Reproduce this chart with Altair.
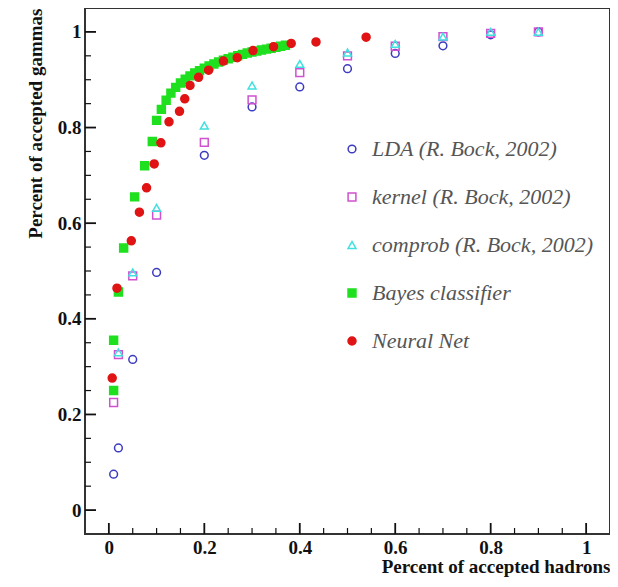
import altair as alt
import pandas as pd

series_names = [
    "LDA (R. Bock, 2002)",
    "kernel (R. Bock, 2002)",
    "comprob (R. Bock, 2002)",
    "Bayes classifier",
    "Neural Net",
]
stroke_colors = ["#3c3cc0", "#d050d0", "#40e0e0", "#1fe01f", "#e01414"]
fill_colors = ["transparent", "transparent", "transparent", "#1fe01f", "#e01414"]
shapes = ["circle", "square", "triangle-up", "square", "circle"]
sizes = [60, 64, 64, 95, 100]

lda_x = [0.01, 0.02, 0.05, 0.1, 0.2, 0.3, 0.4, 0.5, 0.6, 0.7, 0.8, 0.9]
lda_y = [0.075, 0.13, 0.315, 0.497, 0.742, 0.843, 0.885, 0.923, 0.955, 0.971, 0.994, 1.0]

kernel_x = [0.01, 0.02, 0.05, 0.1, 0.2, 0.3, 0.4, 0.5, 0.6, 0.7, 0.8, 0.9]
kernel_y = [0.225, 0.325, 0.49, 0.617, 0.769, 0.858, 0.915, 0.95, 0.97, 0.99, 0.997, 1.0]

comprob_x = [0.02, 0.05, 0.1, 0.2, 0.3, 0.4, 0.5, 0.6, 0.7, 0.8, 0.9]
comprob_y = [0.33, 0.497, 0.632, 0.804, 0.888, 0.933, 0.957, 0.975, 0.99, 1.0, 1.0]

bayes_x = [0.01, 0.01, 0.02, 0.031, 0.054, 0.075, 0.091,
           0.10, 0.11, 0.12, 0.13, 0.14, 0.15, 0.16, 0.17, 0.18, 0.19,
           0.20, 0.21, 0.22, 0.23, 0.24, 0.25, 0.26, 0.27, 0.28, 0.29,
           0.30, 0.31, 0.32, 0.33, 0.34, 0.35, 0.36, 0.37]
bayes_y = [0.25, 0.355, 0.456, 0.548, 0.655, 0.72, 0.771,
           0.815, 0.838, 0.857, 0.872, 0.884, 0.893, 0.901, 0.908, 0.914, 0.919,
           0.924, 0.929, 0.933, 0.937, 0.941, 0.944, 0.947, 0.950, 0.953, 0.956,
           0.958, 0.960, 0.962, 0.964, 0.966, 0.968, 0.970, 0.972]

nn_x = [0.007, 0.017, 0.047, 0.064, 0.079, 0.095, 0.109, 0.126, 0.148, 0.159,
        0.17, 0.188, 0.209, 0.24, 0.269, 0.302, 0.345, 0.382, 0.434, 0.539]
nn_y = [0.276, 0.464, 0.563, 0.623, 0.674, 0.724, 0.768, 0.812, 0.834, 0.86,
        0.888, 0.905, 0.92, 0.939, 0.946, 0.961, 0.969, 0.976, 0.979, 0.989]

x_major = [0, 0.2, 0.4, 0.6, 0.8, 1]
x_minor = [0.05, 0.1, 0.15, 0.25, 0.3, 0.35, 0.45, 0.5, 0.55,
           0.65, 0.7, 0.75, 0.85, 0.9, 0.95]
y_major = [0, 0.2, 0.4, 0.6, 0.8, 1]
y_minor = [0.05, 0.1, 0.15, 0.25, 0.3, 0.35, 0.45, 0.5, 0.55,
           0.65, 0.7, 0.75, 0.85, 0.9, 0.95]

rows = []
for name, xs, ys in zip(series_names,
                        [lda_x, kernel_x, comprob_x, bayes_x, nn_x],
                        [lda_y, kernel_y, comprob_y, bayes_y, nn_y]):
    for a, b in zip(xs, ys):
        rows.append({"series": name, "x": a, "y": b})
df = pd.DataFrame(rows)

W, H = 525, 526

xscale = alt.Scale(domain=[-0.05, 1.05], nice=False, zero=False)
yscale = alt.Scale(domain=[-0.05, 1.05], nice=False, zero=False)

x_axis = alt.Axis(
    values=x_major, ticks=False, domain=False, grid=False,
    labelPadding=4, format="~g", orient="bottom",
    title="Percent of accepted hadrons", titleAnchor="end", titlePadding=0)
y_axis = alt.Axis(
    values=y_major, ticks=False, domain=False, grid=False,
    labelPadding=4, format="~g", orient="left",
    title="Percent of accepted gammas", titleAnchor="end", titlePadding=12)

leg = alt.Legend(
    title=None, orient="none", legendX=256, legendY=130,
    labelFont="Liberation Serif", labelFontStyle="italic", labelFontSize=22,
    labelColor="#555", rowPadding=26, labelOffset=9, padding=0,
    symbolStrokeWidth=1.5, labelLimit=400,
)

points = alt.Chart(df).mark_point(filled=False, strokeWidth=1.5, opacity=1).encode(
    x=alt.X("x:Q", scale=xscale, axis=x_axis),
    y=alt.Y("y:Q", scale=yscale, axis=y_axis),
    color=alt.Color("series:N", scale=alt.Scale(domain=series_names, range=stroke_colors), legend=leg),
    fill=alt.Fill("series:N", scale=alt.Scale(domain=series_names, range=fill_colors), legend=leg),
    shape=alt.Shape("series:N", scale=alt.Scale(domain=series_names, range=shapes), legend=leg),
    size=alt.Size("series:N", scale=alt.Scale(domain=series_names, range=sizes), legend=leg),
)

tick_col = "#111"

y_major_ticks = alt.Chart(pd.DataFrame({"y": y_major})).mark_rule(
    color=tick_col, strokeWidth=1.8).encode(
    y=alt.Y("y:Q", scale=yscale, axis=y_axis),
    x=alt.value(0), x2=alt.value(11))
y_minor_ticks = alt.Chart(pd.DataFrame({"y": y_minor})).mark_rule(
    color=tick_col, strokeWidth=1.2).encode(
    y=alt.Y("y:Q", scale=yscale, axis=y_axis),
    x=alt.value(0), x2=alt.value(6))
x_major_ticks = alt.Chart(pd.DataFrame({"x": x_major})).mark_rule(
    color=tick_col, strokeWidth=1.8).encode(
    x=alt.X("x:Q", scale=xscale, axis=x_axis),
    y=alt.value(H - 11), y2=alt.value(H))
x_minor_ticks = alt.Chart(pd.DataFrame({"x": x_minor})).mark_rule(
    color=tick_col, strokeWidth=1.2).encode(
    x=alt.X("x:Q", scale=xscale, axis=x_axis),
    y=alt.value(H - 6), y2=alt.value(H))

chart = alt.layer(
    points, y_major_ticks, y_minor_ticks, x_major_ticks, x_minor_ticks
).properties(
    width=W, height=H,
    padding={"left": 77, "top": 0, "right": 0, "bottom": 45},
    autosize="none",
).configure_view(
    stroke="#333", strokeWidth=2
).configure_axis(
    labelFont="Liberation Serif", labelFontWeight="bold", labelFontSize=19,
    labelColor="#111",
    titleFont="Liberation Serif", titleFontWeight="bold", titleFontSize=19,
    titleColor="#111",
)

chart.save("out.html", embed_options={"renderer": "svg", "actions": False})
